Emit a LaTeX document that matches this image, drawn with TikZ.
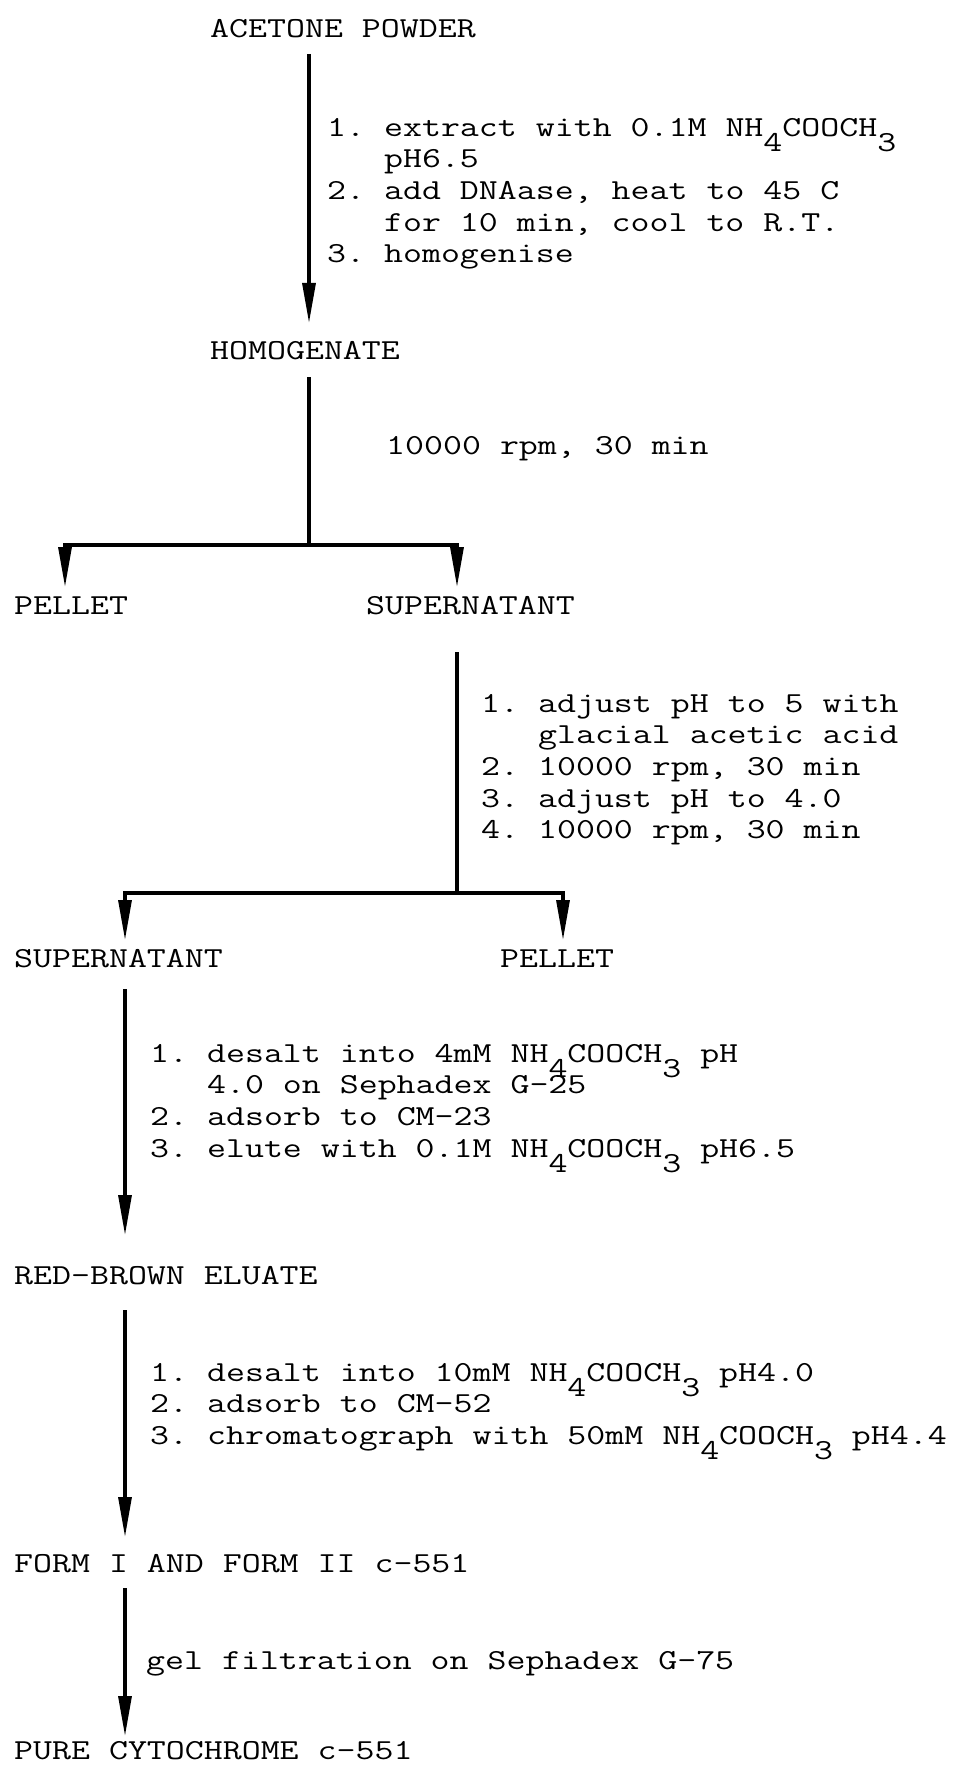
\documentclass[tikz,border=0pt]{standalone}
\usepackage{graphicx}
\usetikzlibrary{arrows.meta}

% typewriter text, widened to the pitch of the original
\newcommand{\tw}[1]{\scalebox{1.27}[1]{\begin{tabular}{@{}l@{}}#1\end{tabular}}}
\newcommand{\dn}[1]{\raisebox{-15pt}[0pt][0pt]{#1}}
\newcommand{\ind}{\hphantom{1.}~}

\tikzset{
  lbl/.style={anchor=north west, inner sep=0pt,
    font=\ttfamily\fontsize{29}{31.6}\selectfont\frenchspacing},
  line/.style={line width=3.2pt},
  flow/.style={line, -{Triangle[length=40pt,width=13pt]}},
}

\begin{document}
\begin{tikzpicture}[x=1pt,y=-1pt]
\useasboundingbox (0,0) rectangle (967,1768);

% products
\node[lbl] (acetone) at (210,15)  {\tw{ACETONE POWDER}};
\node[lbl] (homog)   at (210,337) {\tw{HOMOGENATE}};
\node[lbl] (pellet1) at (14,592)  {\tw{PELLET}};
\node[lbl] (super1)  at (366,592) {\tw{SUPERNATANT}};
\node[lbl] (super2)  at (14,945)  {\tw{SUPERNATANT}};
\node[lbl] (pellet2) at (500,945) {\tw{PELLET}};
\node[lbl] (eluate)  at (14,1262) {\tw{RED-BROWN ELUATE}};
\node[lbl] (forms)   at (14,1550) {\tw{FORM I AND FORM II c-551}};
\node[lbl] (pure)    at (14,1737) {\tw{PURE CYTOCHROME c-551}};

% steps
\node[lbl] (proc1) at (327,114) {\tw{%
  1. extract with 0.1M NH\dn{4}COOCH\dn{3}\\
  \ind pH6.5\\
  2. add DNAase, heat to 45 C\\
  \ind for 10 min, cool to R.T.\\
  3. homogenise}};
\node[lbl] (rpm) at (386,432) {\tw{10000 rpm, 30 min}};
\node[lbl] (proc2) at (481,690) {\tw{%
  1. adjust pH to 5 with\\
  \ind glacial acetic acid\\
  2. 10000 rpm, 30 min\\
  3. adjust pH to 4.0\\
  4. 10000 rpm, 30 min}};
\node[lbl] (proc3) at (150,1040) {\tw{%
  1. desalt into 4mM NH\dn{4}COOCH\dn{3} pH\\
  \ind 4.0 on Sephadex G-25\\
  2. adsorb to CM-23\\
  3. elute with 0.1M NH\dn{4}COOCH\dn{3} pH6.5}};
\node[lbl] (proc4) at (150,1359) {\tw{%
  1. desalt into 10mM NH\dn{4}COOCH\dn{3} pH4.0\\
  2. adsorb to CM-52\\
  3. chromatograph with 50mM NH\dn{4}COOCH\dn{3} pH4.4}};
\node[lbl] (gel) at (146,1647) {\tw{gel filtration on Sephadex G-75}};

% arrows
\draw[flow] ([xshift=99pt,yshift=-7pt]acetone.south west) -- ([xshift=99pt,yshift=14pt]homog.north west);

\coordinate (fork1) at (309,545);
\draw[line] ([xshift=99pt,yshift=-8pt]homog.south west) -- (fork1);
\draw[flow] (fork1) -| ([xshift=51pt,yshift=5pt]pellet1.north west);
\draw[flow] (fork1) -| ([xshift=91pt,yshift=5pt]super1.north west);

\coordinate (fork2) at (457,893);
\draw[line] ([xshift=91pt,yshift=-28pt]super1.south west) -- (fork2);
\draw[flow] (fork2) -| ([xshift=111pt,yshift=5pt]super2.north west);
\draw[flow] (fork2) -| ([xshift=63pt,yshift=5pt]pellet2.north west);

\draw[flow] ([xshift=111pt,yshift=-12pt]super2.south west) -- ([xshift=111pt,yshift=27pt]eluate.north west);
\draw[flow] ([xshift=111pt,yshift=-16pt]eluate.south west) -- ([xshift=111pt,yshift=13pt]forms.north west);
\draw[flow] ([xshift=111pt,yshift=-6pt]forms.south west) -- ([xshift=111pt,yshift=1pt]pure.north west);
\end{tikzpicture}
\end{document}
